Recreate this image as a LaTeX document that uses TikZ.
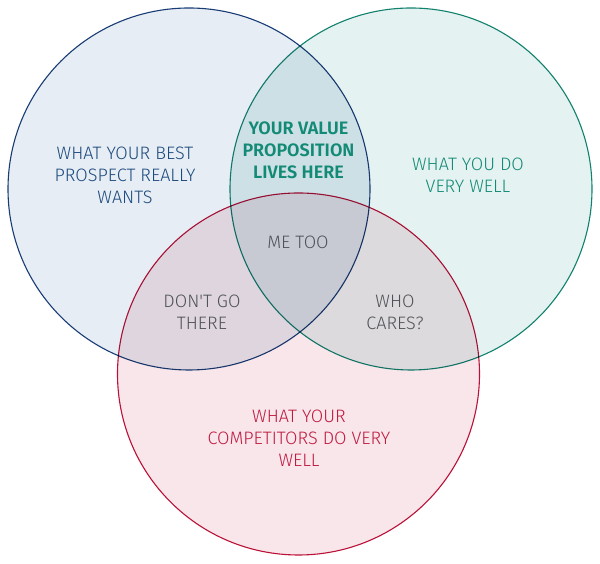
\documentclass[tikz,border=0pt]{standalone}
\usepackage{fontspec}
\setmainfont{Fira Sans Light}[BoldFont=Fira Sans SemiBold]
\usetikzlibrary{positioning}
\definecolor{wantline}{HTML}{1B3F78}
\definecolor{wantfill}{HTML}{E6EDF4}
\definecolor{wanttext}{HTML}{1D4A7C}
\definecolor{doline}{HTML}{138572}
\definecolor{dofill}{HTML}{E4F2F1}
\definecolor{dotext}{HTML}{138A76}
\definecolor{rivalline}{HTML}{BE123A}
\definecolor{rivalfill}{HTML}{F8E6EA}
\definecolor{rivaltext}{HTML}{C01A40}
\definecolor{zonetext}{HTML}{4F5257}

\begin{document}
\begin{tikzpicture}[x=1pt, y=1pt,
    set/.style={circle, minimum size=362pt, inner sep=0pt, line width=1.1pt, blend mode=multiply},
    settext/.style={align=center, inner sep=0pt, font=\fontsize{18}{22}\selectfont}]
    \useasboundingbox (0,0) rectangle (600,564);
    \node[set, draw=wantline, fill=wantfill] (want) at (189,375) {};
    \node[set, draw=doline, fill=dofill] (do) at (411,375) {};
    \node[set, draw=rivalline, fill=rivalfill] (rival) at (298.5,190) {};
    \node[settext, text=wanttext] (wants) at (125,389) {WHAT YOUR BEST\\PROSPECT REALLY\\WANTS};
    \node[settext, text=dotext, font=\fontsize{18}{22}\selectfont\bfseries] (value) at (298.5,414) {YOUR VALUE\\PROPOSITION\\LIVES HERE};
    \node[settext, text=dotext] (dowell) at (468,389) {WHAT YOU DO\\VERY WELL};
    \node[settext, text=zonetext] (metoo) at (298,322) {ME TOO};
    \node[settext, text=zonetext] (dont) at (202,252) {DON\textquotesingle T GO\\THERE};
    \node[settext, text=zonetext] (cares) at (395,252) {WHO\\CARES?};
    \node[settext, text=rivaltext] (rivals) at (299,126) {WHAT YOUR\\COMPETITORS DO VERY\\WELL};
\end{tikzpicture}
\end{document}
